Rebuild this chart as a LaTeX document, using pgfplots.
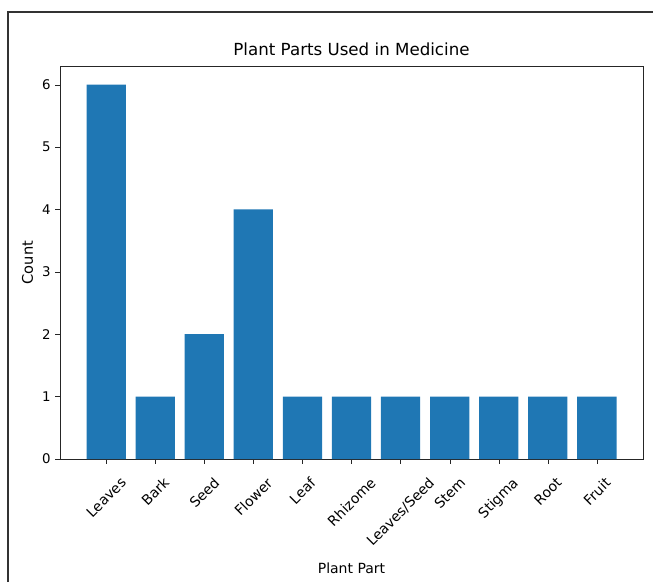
\documentclass[border=0pt]{standalone}
\usepackage{graphicx}
\usepackage{pgfplots}
\pgfplotsset{compat=1.18}
\usepackage{fontspec}
\setmainfont{DejaVu Sans}
\definecolor{mplblue}{HTML}{1F77B4}
\begin{document}
\begin{tikzpicture}
% page frame as in the screenshot (1px = 0.75pt)
\useasboundingbox (0,0) rectangle (489.75pt,436.5pt);
\draw[line width=1.2pt, black!80] (6pt,0) -- (6pt,427.5pt) -- (489.75pt,427.5pt);
\begin{axis}[
  at={(45pt,92.25pt)}, anchor=south west,
  scale only axis, width=437.25pt, height=294.75pt,
  font=\fontsize{10}{12}\selectfont,
  /pgf/number format/assume math mode=true,
  title={Plant Parts Used in Medicine},
  title style={font=\fontsize{12.5}{14}\selectfont, yshift=-1.5pt},
  xlabel={Plant Part}, ylabel={Count},
  xlabel style={font=\fontsize{10.5}{12}\selectfont, yshift=-6pt},
  ylabel style={font=\fontsize{11}{12}\selectfont},
  xmin=-0.94, xmax=10.94, ymin=0, ymax=6.3,
  ytick={0,1,2,3,4,5,6},
  xtick=data,
  xticklabels={\rotatebox{45}{Leaves},\rotatebox{45}{Bark},\rotatebox{45}{Seed},
    \rotatebox{45}{Flower},\rotatebox{45}{Leaf},\rotatebox{45}{Rhizome},
    \rotatebox{45}{Leaves/Seed},\rotatebox{45}{Stem},\rotatebox{45}{Stigma},
    \rotatebox{45}{Root},\rotatebox{45}{Fruit}},
  xticklabel style={anchor=north, inner sep=2pt, yshift=-7.5pt,
    font=\fontsize{10.5}{12}\selectfont},
  tick align=outside, major tick length=3.5pt,
  xtick pos=bottom, ytick pos=left,
  axis line style={black!85},
  tick style={black!85},
  ybar, bar width=0.8,
]
\addplot[fill=mplblue, draw=none] coordinates {
(0,6) (1,1) (2,2) (3,4) (4,1) (5,1) (6,1) (7,1) (8,1) (9,1) (10,1)
};
\end{axis}
\end{tikzpicture}
\end{document}
